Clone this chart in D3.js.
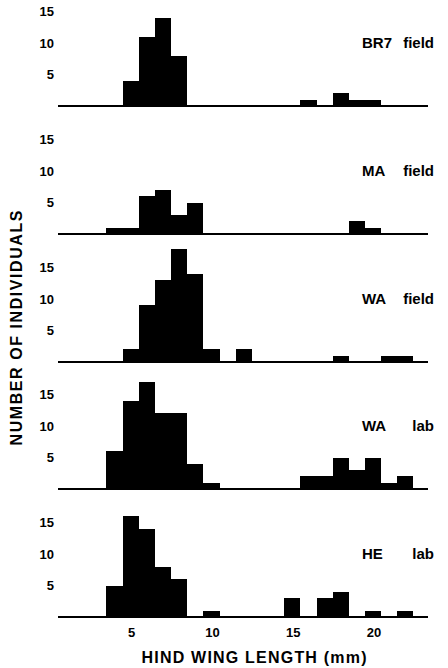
<!DOCTYPE html>
<html>
<head>
<meta charset="utf-8">
<script src="https://cdn.jsdelivr.net/npm/d3@7"></script>
<style>
	body { margin: 0; background: #fff; }
	svg text { font-family: "Liberation Sans", Arial, Helvetica, sans-serif; font-weight: bold; fill: #000; }
</style>
</head>
<body>
<svg id="plot" width="448" height="668"></svg>
<script>
// hind wing length classes (mm), one bar per class
const binCentres = [4, 5, 6, 7, 8, 9, 10, 11, 12, 13, 14, 15, 16, 17, 18, 19, 20, 21, 22];

// number of individuals per class, one array per sample
const br7Field = [0, 4, 11, 14, 8, 0, 0, 0, 0, 0, 0, 0, 1, 0, 2, 1, 1, 0, 0];
const maField  = [1, 1, 6, 7, 3, 5, 0, 0, 0, 0, 0, 0, 0, 0, 0, 2, 1, 0, 0];
const waField  = [0, 2, 9, 13, 18, 14, 2, 0, 2, 0, 0, 0, 0, 0, 1, 0, 0, 1, 1];
const waLab    = [6, 14, 17, 12, 12, 4, 1, 0, 0, 0, 0, 0, 2, 2, 5, 3, 5, 1, 2];
const heLab    = [5, 16, 14, 8, 6, 0, 1, 0, 0, 0, 0, 3, 0, 3, 4, 0, 1, 0, 1];

const sampleNames = ["BR7", "MA", "WA", "WA", "HE"];
const sampleKinds = ["field", "field", "field", "lab", "lab"];
const sampleCounts = [br7Field, maField, waField, waLab, heLab];

const yTicks = [5, 10, 15];
const xTicks = [5, 10, 15, 20];

function drawChart(svg_element_id) {
	const svg = d3.select('#' + svg_element_id);

	const x = d3.scaleLinear()
		.domain([0.5, 23.4])
		.range([58, 428]);

	// baseline of each panel
	const panelY = d3.scaleLinear()
		.domain([0, sampleCounts.length - 1])
		.range([106, 617]);

	// counts -> pixels above baseline
	const y = d3.scaleLinear()
		.domain([0, 15])
		.range([0, -94.5]);

	sampleCounts.forEach((counts, i) => {
		const g = svg.append('g')
			.attr('transform', 'translate(0,' + Math.round(panelY(i)) + ')');

		const data = binCentres.map((c, k) => ({'mm': c, 'n': counts[k]}))
			.filter(d => d.n > 0);

		// bars, edges rounded so touching bars merge into one block
		g.selectAll('rect')
			.data(data)
			.enter()
			.append('rect')
				.attr('x', d => Math.round(x(d.mm - 0.5)))
				.attr('width', d => Math.round(x(d.mm + 0.5)) - Math.round(x(d.mm - 0.5)))
				.attr('y', d => Math.round(y(d.n)))
				.attr('height', d => -Math.round(y(d.n)))
				.attr('fill', '#000')
				.attr('shape-rendering', 'crispEdges');

		// baseline
		g.append('line')
			.attr('x1', x.range()[0])
			.attr('x2', x.range()[1])
			.attr('y1', 0)
			.attr('y2', 0)
			.attr('stroke', '#000')
			.attr('stroke-width', 2.2);

		// y tick labels
		g.selectAll('text.ytick')
			.data(yTicks)
			.enter()
			.append('text')
				.attr('class', 'ytick')
				.attr('x', 54)
				.attr('y', d => y(d))
				.attr('dy', '0.35em')
				.attr('text-anchor', 'end')
				.style('font-size', '13px')
				.text(d => d);

		// panel label
		g.append('text')
			.attr('x', 362)
			.attr('y', y(10))
			.attr('dy', '0.35em')
			.style('font-size', '15px')
			.text(sampleNames[i]);
		g.append('text')
			.attr('x', 434)
			.attr('y', y(10))
			.attr('dy', '0.35em')
			.attr('text-anchor', 'end')
			.style('font-size', '15px')
			.text(sampleKinds[i]);
	});

	// x tick labels under last panel
	svg.append('g')
		.selectAll('text')
		.data(xTicks)
		.enter()
		.append('text')
			.attr('x', d => x(d) + 1)
			.attr('y', 632)
			.attr('dy', '0.35em')
			.attr('text-anchor', 'middle')
			.style('font-size', '13px')
			.text(d => d);

	svg.append('text')
		.attr('x', 254)
		.attr('y', 657)
		.attr('dy', '0.35em')
		.attr('text-anchor', 'middle')
		.attr('textLength', 225)
		.attr('lengthAdjust', 'spacing')
		.style('font-size', '16px')
		.text('HIND WING LENGTH (mm)');

	svg.append('text')
		.attr('transform', 'translate(16,328) rotate(-90)')
		.attr('dy', '0.35em')
		.attr('text-anchor', 'middle')
		.attr('textLength', 235)
		.attr('lengthAdjust', 'spacing')
		.style('font-size', '16px')
		.text('NUMBER OF INDIVIDUALS');
}

drawChart('plot');
</script>
</body>
</html>
